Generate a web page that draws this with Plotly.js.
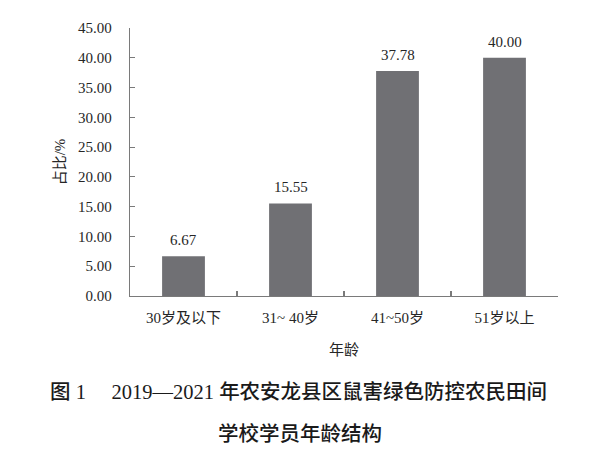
<!DOCTYPE html>
<html>
<head>
<meta charset="utf-8">
<script src="https://cdn.plot.ly/plotly-3.0.1.min.js"></script>
<style>html,body{margin:0;padding:0;background:#fff;}#chart{width:600px;height:452px;}</style>
</head>
<body>
<div id="chart"></div>
<script>
const categories = ["30岁及以下", "31~ 40岁", "41~50岁", "51岁以上"];
const shares = [6.67, 15.55, 37.78, 40.00];
const yTickValues = [0, 5, 10, 15, 20, 25, 30, 35, 40, 45];
const yTickLabels = ["0.00", "5.00", "10.00", "15.00", "20.00", "25.00", "30.00", "35.00", "40.00", "45.00"];
const xAxisTitle = "年龄";
const yAxisTitle = "占比/%";
const captionLine1 = "<span style=\"font-weight:500\">图</span> 1\u2003 2019—2021 <span style=\"font-weight:500\">年农安龙县区鼠害绿色防控农民田间</span>";
const captionLine2 = "<span style=\"font-weight:500\">学校学员年龄结构</span>";

const FONT = "Liberation Serif, Noto Sans CJK SC, serif";
const TXT = "#262626";

const trace = {
  type: "bar",
  x: categories,
  y: shares,
  width: 0.4,
  marker: { color: "#707074", line: { width: 0 } },
  hoverinfo: "x+y"
};

const valueLabels = categories.map((c, i) => ({
  x: c, y: shares[i], xref: "x", yref: "y",
  text: shares[i].toFixed(2),
  showarrow: false, yanchor: "bottom", yshift: 6,
  font: { family: FONT, size: 15, color: TXT }
}));

const captions = [
  { text: captionLine1, xref: "paper", yref: "paper", x: (298 - 130) / 428, y: 0, yanchor: "middle", xanchor: "center", yshift: -96, showarrow: false,
    font: { family: FONT, size: 20.5, color: "#1a1a1a" } },
  { text: captionLine2, xref: "paper", yref: "paper", x: (300 - 130) / 428, y: 0, yanchor: "middle", xanchor: "center", yshift: -138, showarrow: false,
    font: { family: FONT, size: 20.5, color: "#1a1a1a" } }
];

const layout = {
  width: 600, height: 452,
  margin: { l: 130, r: 42, t: 28, b: 156 },
  paper_bgcolor: "#fff", plot_bgcolor: "#fff",
  showlegend: false,
  font: { family: FONT, size: 15, color: TXT },
  xaxis: {
    type: "category",
    range: [-0.5, 3.5],
    showline: true, linecolor: "#7a7a7a", linewidth: 1.2,
    ticks: "inside", tickson: "boundaries", ticklen: 5, tickcolor: "#7a7a7a", tickwidth: 1.2,
    showgrid: false, zeroline: false,
    tickfont: { family: FONT, size: 15, color: TXT },
    ticklabelstandoff: 8,
    title: { text: xAxisTitle, font: { family: FONT, size: 15, color: TXT }, standoff: 19 }
  },
  yaxis: {
    range: [0, 45],
    tickvals: yTickValues, ticktext: yTickLabels,
    showline: true, linecolor: "#7a7a7a", linewidth: 1.2,
    ticks: "inside", ticklen: 5, tickcolor: "#7a7a7a", tickwidth: 1.2,
    showgrid: false, zeroline: false,
    tickfont: { family: FONT, size: 15, color: TXT },
    ticklabelstandoff: 14,
    title: { text: yAxisTitle, font: { family: FONT, size: 15, color: TXT }, standoff: 8 }
  },
  annotations: valueLabels.concat(captions)
};

Plotly.newPlot("chart", [trace], layout, { displayModeBar: false, staticPlot: true });
</script>
</body>
</html>
